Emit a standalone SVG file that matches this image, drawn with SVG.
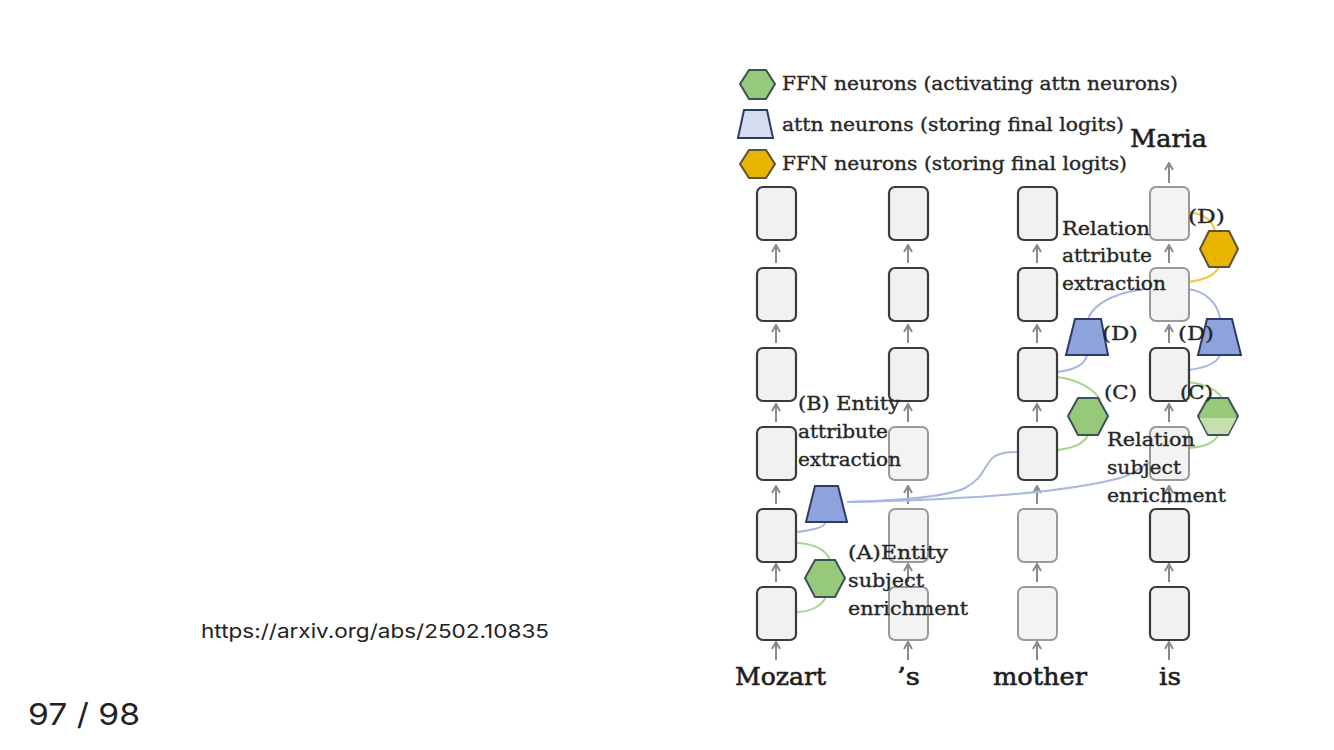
<svg xmlns="http://www.w3.org/2000/svg" width="1334" height="750" viewBox="0 0 1334 750">
<style>
.box{fill:#f1f1f1;stroke:#3a3a3a;stroke-width:2.2}
.fade{fill:#f3f3f3;stroke:#9a9a9a;stroke-width:2}
.arr{stroke:#8a8a8a;stroke-width:2;fill:none;marker-end:url(#ah)}
.t{font-family:"DejaVu Serif","Liberation Serif",serif;fill:#262626;stroke:#262626;stroke-width:0.35;font-size:19px}
.w{font-family:"DejaVu Serif","Liberation Serif",serif;fill:#1e1e1e;font-size:25px;stroke:#1e1e1e;stroke-width:0.6}
.hexg{fill:#97c97a;stroke:#3b5257;stroke-width:2}
.hexy{fill:#e8b400;stroke:#5e5330;stroke-width:2}
.trap{fill:#8ea3dc;stroke:#2c3c66;stroke-width:2}
.bl{stroke:#a9b7e0;stroke-width:2;fill:none}
.gl{stroke:#a7d78c;stroke-width:2;fill:none}
.yl{stroke:#efc93a;stroke-width:2;fill:none}
</style>
<defs>
<marker id="ah" viewBox="0 0 10 10" refX="9" refY="5" markerWidth="10" markerHeight="10" orient="auto" markerUnits="userSpaceOnUse">
<path d="M2,1 L9,5 L2,9" fill="none" stroke="#8a8a8a" stroke-width="2"/>
</marker>
</defs>
<rect width="1334" height="750" fill="#fff"/>

<g id="legend">
<polygon class="hexg" points="740,84 749,70 766,70 775,84 766,99 749,99"/>
<polygon points="744,110 767,110 773,138 738,138" fill="#d5dcf0" stroke="#2c3c66" stroke-width="2"/>
<polygon class="hexy" points="740,164 749,150 766,150 775,164 766,178 749,178"/>
<text class="t" x="782" y="90" textLength="396" lengthAdjust="spacingAndGlyphs">FFN neurons (activating attn neurons)</text>
<text class="t" x="782" y="131" textLength="342" lengthAdjust="spacingAndGlyphs">attn neurons (storing final logits)</text>
<text class="t" x="782" y="170" textLength="345" lengthAdjust="spacingAndGlyphs">FFN neurons (storing final logits)</text>
</g>

<g id="connectors">
<g>
<line class="arr" x1="776" y1="263" x2="776" y2="245"/>
<line class="arr" x1="776" y1="343" x2="776" y2="325"/>
<line class="arr" x1="776" y1="422" x2="776" y2="404"/>
<line class="arr" x1="776" y1="504" x2="776" y2="486"/>
<line class="arr" x1="776" y1="582" x2="776" y2="564"/>
<line class="arr" x1="776" y1="660" x2="776" y2="642"/>
<line class="arr" x1="908" y1="263" x2="908" y2="245"/>
<line class="arr" x1="908" y1="343" x2="908" y2="325"/>
<line class="arr" x1="908" y1="422" x2="908" y2="404"/>
<line class="arr" x1="908" y1="504" x2="908" y2="486"/>
<line class="arr" x1="908" y1="582" x2="908" y2="564"/>
<line class="arr" x1="908" y1="660" x2="908" y2="642"/>
<line class="arr" x1="1037" y1="263" x2="1037" y2="245"/>
<line class="arr" x1="1037" y1="343" x2="1037" y2="325"/>
<line class="arr" x1="1037" y1="422" x2="1037" y2="404"/>
<line class="arr" x1="1037" y1="504" x2="1037" y2="486"/>
<line class="arr" x1="1037" y1="582" x2="1037" y2="564"/>
<line class="arr" x1="1037" y1="660" x2="1037" y2="642"/>
<line class="arr" x1="1169" y1="183" x2="1169" y2="163"/>
<line class="arr" x1="1169" y1="263" x2="1169" y2="245"/>
<line class="arr" x1="1169" y1="343" x2="1169" y2="325"/>
<line class="arr" x1="1169" y1="422" x2="1169" y2="404"/>
<line class="arr" x1="1169" y1="504" x2="1169" y2="486"/>
<line class="arr" x1="1169" y1="582" x2="1169" y2="564"/>
<line class="arr" x1="1169" y1="660" x2="1169" y2="642"/>
</g>
<path class="gl" d="M797,543 C815,544 826,550 830,560"/>
<path class="gl" d="M797,612 C812,612 822,605 826,597"/>
<path class="bl" d="M797,532 C812,530 824,528 826,522"/>
<path class="bl" d="M847,502 C920,500 950,495 965,488 C985,478 985,462 995,456 C1003,452 1010,452 1018,452"/>
<path class="bl" d="M847,502 C950,500 1060,494 1120,478 C1135,474 1142,466 1150,462"/>
<path class="gl" d="M1057,377 C1080,380 1095,390 1100,400"/>
<path class="gl" d="M1057,450 C1075,448 1085,442 1088,435"/>
<path class="gl" d="M1188,382 C1205,384 1218,390 1223,400"/>
<path class="gl" d="M1188,448 C1205,447 1215,442 1218,435"/>
<path class="bl" d="M1057,372 C1075,370 1085,365 1087,355"/>
<path class="bl" d="M1188,370 C1205,368 1217,363 1220,355"/>
<path class="bl" d="M1088,319 C1095,300 1125,290 1150,289"/>
<path class="bl" d="M1188,289 C1205,291 1218,303 1220,319"/>
<path class="yl" d="M1188,282 C1205,280 1215,275 1219,267"/>
<path class="yl" d="M1188,212 C1205,214 1213,222 1215,231"/>
</g>

<g id="col-mozart">
<rect class="box" x="757" y="187" width="39" height="53" rx="6"/>
<rect class="box" x="757" y="268" width="39" height="53" rx="6"/>
<rect class="box" x="757" y="348" width="39" height="53" rx="6"/>
<rect class="box" x="757" y="427" width="39" height="53" rx="6"/>
<rect class="box" x="757" y="509" width="39" height="53" rx="6"/>
<rect class="box" x="757" y="587" width="39" height="53" rx="6"/>
</g>
<g id="col-s">
<rect class="box" x="889" y="187" width="39" height="53" rx="6"/>
<rect class="box" x="889" y="268" width="39" height="53" rx="6"/>
<rect class="box" x="889" y="348" width="39" height="53" rx="6"/>
<rect class="fade" x="889" y="427" width="39" height="53" rx="6"/>
<rect class="fade" x="889" y="509" width="39" height="53" rx="6"/>
<rect class="fade" x="889" y="587" width="39" height="53" rx="6"/>
</g>
<g id="col-mother">
<rect class="box" x="1018" y="187" width="39" height="53" rx="6"/>
<rect class="box" x="1018" y="268" width="39" height="53" rx="6"/>
<rect class="box" x="1018" y="348" width="39" height="53" rx="6"/>
<rect class="box" x="1018" y="427" width="39" height="53" rx="6"/>
<rect class="fade" x="1018" y="509" width="39" height="53" rx="6"/>
<rect class="fade" x="1018" y="587" width="39" height="53" rx="6"/>
</g>
<g id="col-is">
<rect class="fade" x="1150" y="187" width="39" height="53" rx="6"/>
<rect class="fade" x="1150" y="268" width="39" height="53" rx="6"/>
<rect class="box" x="1150" y="348" width="39" height="53" rx="6"/>
<rect class="fade" x="1150" y="427" width="39" height="53" rx="6"/>
<rect class="box" x="1150" y="509" width="39" height="53" rx="6"/>
<rect class="box" x="1150" y="587" width="39" height="53" rx="6"/>
</g>

<g id="node-A"><polygon class="hexg" points="805,578 815,560 835,560 845,578 835,597 815,597"/></g>
<g id="node-B"><polygon class="trap" points="815,486 838,486 847,522 806,522"/></g>
<g id="node-C1"><polygon class="hexg" points="1068,416 1078,398 1098,398 1108,416 1098,435 1078,435"/></g>
<g id="node-C2"><polygon class="hexg" points="1198,416 1208,398 1228,398 1238,416 1228,435 1208,435"/><polygon points="1199.5,418 1236.5,418 1228,434 1208,434" fill="#c3e0ad"/></g>
<g id="node-D1"><polygon class="trap" points="1075,319 1101,319 1108,355 1066,355"/></g>
<g id="node-D2"><polygon class="trap" points="1207,319 1232,319 1241,355 1198,355"/></g>
<g id="node-D3"><polygon class="hexy" points="1200,249 1209,231 1229,231 1238,249 1229,267 1209,267"/></g>

<g id="labels">
<text class="t" x="1188" y="223" textLength="37" lengthAdjust="spacingAndGlyphs">(D)</text>
<text class="t" x="1062" y="235" textLength="88" lengthAdjust="spacingAndGlyphs">Relation</text>
<text class="t" x="1062" y="262" textLength="90" lengthAdjust="spacingAndGlyphs">attribute</text>
<text class="t" x="1062" y="290" textLength="104" lengthAdjust="spacingAndGlyphs">extraction</text>
<text class="t" x="1102" y="340" textLength="36" lengthAdjust="spacingAndGlyphs">(D)</text>
<text class="t" x="1178" y="340" textLength="36" lengthAdjust="spacingAndGlyphs">(D)</text>
<text class="t" x="1104" y="399" textLength="33" lengthAdjust="spacingAndGlyphs">(C)</text>
<text class="t" x="1180" y="399" textLength="33" lengthAdjust="spacingAndGlyphs">(C)</text>
<text class="t" x="1107" y="446" textLength="88" lengthAdjust="spacingAndGlyphs">Relation</text>
<text class="t" x="1107" y="474" textLength="74" lengthAdjust="spacingAndGlyphs">subject</text>
<text class="t" x="1107" y="502" textLength="119" lengthAdjust="spacingAndGlyphs">enrichment</text>
<text class="t" x="798" y="410" textLength="102" lengthAdjust="spacingAndGlyphs">(B) Entity</text>
<text class="t" x="798" y="438" textLength="90" lengthAdjust="spacingAndGlyphs">attribute</text>
<text class="t" x="798" y="466" textLength="103" lengthAdjust="spacingAndGlyphs">extraction</text>
<text class="t" x="848" y="559" textLength="100" lengthAdjust="spacingAndGlyphs">(A)Entity</text>
<text class="t" x="848" y="587" textLength="76" lengthAdjust="spacingAndGlyphs">subject</text>
<text class="t" x="848" y="615" textLength="120" lengthAdjust="spacingAndGlyphs">enrichment</text>
</g>

<g id="words">
<text class="w" x="735" y="685" textLength="91" lengthAdjust="spacingAndGlyphs">Mozart</text>
<text class="w" x="897" y="685" textLength="23" lengthAdjust="spacingAndGlyphs">’s</text>
<text class="w" x="993" y="685" textLength="94" lengthAdjust="spacingAndGlyphs">mother</text>
<text class="w" x="1159" y="685" textLength="22" lengthAdjust="spacingAndGlyphs">is</text>
<text class="w" x="1130" y="147" textLength="77" lengthAdjust="spacingAndGlyphs">Maria</text>
</g>

<text x="201" y="638" font-family="Inter, Liberation Sans, sans-serif" font-size="19" fill="#222" textLength="348" lengthAdjust="spacingAndGlyphs">https://arxiv.org/abs/2502.10835</text>
<text x="28" y="725" font-family="Inter, Liberation Sans, sans-serif" font-size="30" fill="#222" textLength="112" lengthAdjust="spacingAndGlyphs">97 / 98</text>
</svg>
